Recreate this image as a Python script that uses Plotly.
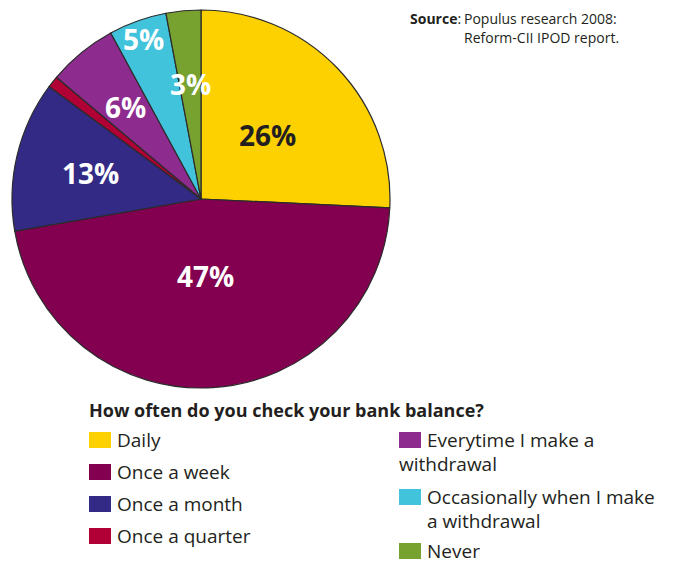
import math
import plotly.graph_objects as go

# Survey answers, clockwise from 12 o'clock
categories = ["Daily", "Once a week", "Once a month", "Once a quarter",
              "Everytime I make a withdrawal",
              "Occasionally when I make a withdrawal", "Never"]
shares = [26, 47, 13, 1, 6, 5, 3]
slice_labels = ["26%", "47%", "13%", "", "6%", "5%", "3%"]
colors = ["#FDD000", "#82004F", "#332A86", "#B00036", "#8E2B8E", "#42C3DC", "#78A22F"]
label_colors = ["#231F20", "white", "white", "white", "white", "white", "white"]
# How far out from the centre each percentage sits (fraction of radius)
label_radius = [0.49, 0.41, 0.60, 0.6, 0.63, 0.90, 0.61]

# Legend text, two columns; each entry is a list of wrapped lines
legend_left = [["Daily"], ["Once a week"], ["Once a month"], ["Once a quarter"]]
legend_right = [["Everytime I make a", "withdrawal"],
                ["Occasionally when I make", "a withdrawal"],
                ["Never"]]

W, H = 684, 563
FONT = "Open Sans"
INK = "#231F20"

# Pie geometry in pixels
CX, CY, R = 201, 199, 189


def px(x):
    return x / W


def py(y):
    return 1 - y / H


fig = go.Figure(go.Pie(
    labels=categories,
    values=shares,
    textinfo="none",
    marker=dict(colors=colors, line=dict(color="#2B2B2B", width=1.2)),
    sort=False,
    direction="clockwise",
    rotation=0,
    showlegend=False,
    hoverinfo="label+percent",
    domain=dict(x=[px(CX - R), px(CX + R)], y=[py(CY + R), py(CY - R)]),
))

annotations = []
shapes = []

# Percentages placed along each slice's mid-angle
total = sum(shares)
cum = 0
for share, lab, col, rf in zip(shares, slice_labels, label_colors, label_radius):
    mid = (cum + share / 2) / total * 2 * math.pi
    cum += share
    if not lab:
        continue
    x = CX + rf * R * math.sin(mid)
    y = CY - rf * R * math.cos(mid)
    annotations.append(dict(x=px(x), y=py(y), xref="paper", yref="paper",
                            text=f"<b>{lab}</b>", showarrow=False,
                            xanchor="center", yanchor="middle",
                            font=dict(family=FONT, size=28, color=col)))

# Source note
annotations.append(dict(x=px(408), y=py(18), xref="paper", yref="paper",
                        text="<b>Source</b>:", showarrow=False,
                        xanchor="left", yanchor="middle",
                        font=dict(family=FONT, size=14, color=INK)))
for k, line in enumerate(["Populus research 2008:", "Reform-CII IPOD report."]):
    annotations.append(dict(x=px(462), y=py(18 + 20 * k), xref="paper", yref="paper",
                            text=line, showarrow=False, xanchor="left",
                            yanchor="middle",
                            font=dict(family=FONT, size=14, color=INK)))

# Legend heading
annotations.append(dict(x=px(87), y=py(410), xref="paper", yref="paper",
                        text="<b>How often do you check your bank balance?</b>",
                        showarrow=False, xanchor="left", yanchor="middle",
                        font=dict(family=FONT, size=18, color=INK)))


def legend_item(x0, ycenter, color, lines, second_x):
    shapes.append(dict(type="rect", xref="paper", yref="paper",
                       x0=px(x0), x1=px(x0 + 22),
                       y0=py(ycenter + 8), y1=py(ycenter - 8),
                       fillcolor=color, line=dict(width=0)))
    for k, line in enumerate(lines):
        lx = x0 + 26 if k == 0 else second_x
        annotations.append(dict(x=px(lx), y=py(ycenter + 24 * k),
                                xref="paper", yref="paper", text=line,
                                showarrow=False, xanchor="left",
                                yanchor="middle",
                                font=dict(family=FONT, size=19, color=INK)))


for i, lines in enumerate(legend_left):
    legend_item(89, 440 + 32 * i, colors[i], lines, 115)

right_rows = [(440, 397), (497, 425), (551, 425)]
for j, lines in enumerate(legend_right):
    yc, x2 = right_rows[j]
    legend_item(399, yc, colors[4 + j], lines, x2)

fig.update_layout(
    width=W, height=H,
    margin=dict(l=0, r=0, t=0, b=0),
    paper_bgcolor="white",
    plot_bgcolor="white",
    annotations=annotations,
    shapes=shapes,
    font=dict(family=FONT, color=INK),
)

fig.write_html("out.html")
